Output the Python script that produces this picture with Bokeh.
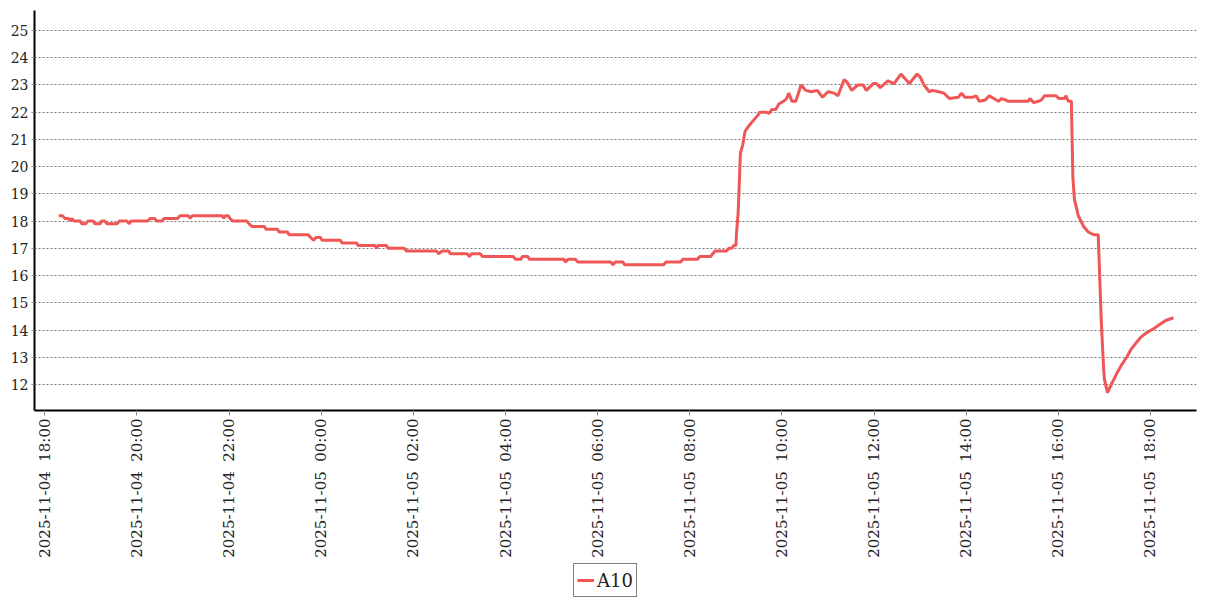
import datetime as dt
import numpy as np
from bokeh.plotting import figure
from bokeh.layouts import column
from bokeh.models import Range1d, FixedTicker, Legend, LegendItem, ColumnDataSource
from bokeh.embed import file_html
from bokeh.resources import INLINE

series_name = "A10"

times = ["18:18","18:23","18:26","18:31","18:33","18:35","18:38","18:46","18:48","18:53","18:56","19:03","19:05","19:12","19:14","19:18","19:21","19:34","19:37","19:47","19:50","19:52","20:14","20:17","20:23","20:26","20:33","20:35","20:53","20:56","21:07","21:09","21:12","21:51","21:53","21:55","21:59","22:01","22:05","22:23","22:26","22:30","22:46","22:48","23:03","23:05","23:16","23:18","23:43","23:46","23:50","23:53","23:59",
         "00:01","00:25","00:27","00:46","00:48","01:10","01:12","01:14","01:25","01:27","01:48","01:51","02:30","02:33","02:37","02:46","02:48","03:10","03:13","03:16","03:27","03:30","04:10","04:13","04:20","04:22","04:29","04:31","05:16","05:18","05:22","05:31","05:34","06:17","06:20","06:23","06:33","06:35","07:26","07:29","07:48","07:51","08:10","08:13","08:27","08:30","08:33","08:48","08:51","08:55","08:57",
         "09:00","09:01","09:03","09:05","09:06","09:09","09:12","09:17","09:23","09:29","09:31","09:40","09:43","09:47","09:52","09:56","10:02","10:06","10:09","10:13","10:18","10:25","10:31","10:38","10:46","10:53","11:00","11:08","11:13","11:21","11:25","11:31","11:39","11:46","11:50","11:59","12:03","12:08","12:18","12:26","12:35","12:46","12:56","13:00","13:05","13:12","13:16","13:24","13:31","13:38","13:50","13:54","13:58",
         "14:09","14:13","14:17","14:25","14:30","14:36","14:42","14:46","14:51","14:55","15:21","15:23","15:28","15:34","15:38","15:42","15:57","16:01","16:08","16:10","16:13","16:17","16:19","16:21","16:26","16:33","16:39","16:46","16:52","16:56","16:59","17:00","17:04","17:09","17:16","17:22","17:29","17:35","17:42","17:48","17:55","18:04","18:12","18:20","18:30"]

values = [18.2,18.2,18.1,18.1,18.0,18.1,18.0,18.0,17.9,17.9,18.0,18.0,17.9,17.9,18.0,18.0,17.9,17.9,18.0,18.0,17.9,18.0,18.0,18.1,18.1,18.0,18.0,18.1,18.1,18.2,18.2,18.1,18.2,18.2,18.1,18.2,18.2,18.1,18.0,18.0,17.9,17.8,17.8,17.7,17.7,17.6,17.6,17.5,17.5,17.4,17.3,17.4,17.4,
          17.3,17.3,17.2,17.2,17.1,17.1,17.0,17.1,17.1,17.0,17.0,16.9,16.9,16.8,16.9,16.9,16.8,16.8,16.7,16.8,16.8,16.7,16.7,16.6,16.6,16.7,16.7,16.6,16.6,16.5,16.6,16.6,16.5,16.5,16.4,16.5,16.5,16.4,16.4,16.5,16.5,16.6,16.6,16.7,16.7,16.8,16.9,16.9,17.0,17.0,17.1,
          17.1,17.6,18.3,19.8,20.5,20.8,21.3,21.5,21.7,21.9,22.0,22.0,21.95,22.1,22.1,22.3,22.4,22.5,22.7,22.4,22.4,23.0,22.8,22.75,22.8,22.55,22.75,22.7,22.6,23.2,23.1,22.8,23.0,23.0,22.8,23.05,23.05,22.9,23.15,23.05,23.4,23.05,23.4,23.3,23.0,22.75,22.8,22.75,22.7,22.5,22.55,22.7,22.55,
          22.55,22.6,22.4,22.45,22.6,22.5,22.4,22.5,22.45,22.4,22.4,22.5,22.35,22.4,22.45,22.6,22.6,22.5,22.5,22.6,22.4,22.4,19.6,18.8,18.2,17.8,17.6,17.5,17.5,14.3,12.6,12.2,11.7,12.0,12.4,12.7,13.0,13.3,13.55,13.75,13.9,14.05,14.2,14.35,14.45]

x_tick_labels = ["2025-11-04 18:00","2025-11-04 20:00","2025-11-04 22:00","2025-11-05 00:00",
                 "2025-11-05 02:00","2025-11-05 04:00","2025-11-05 06:00","2025-11-05 08:00",
                 "2025-11-05 10:00","2025-11-05 12:00","2025-11-05 14:00","2025-11-05 16:00",
                 "2025-11-05 18:00"]
y_ticks = list(range(12, 26))

LINE_COLOR = "#ef5656"

EPOCH = dt.datetime(1970, 1, 1)
def to_ms(d):
    return (d - EPOCH).total_seconds() * 1000.0

start_day = dt.datetime(2025, 11, 4)
dts = []
day = 0
prev = None
for t in times:
    h, m = map(int, t.split(":"))
    mins = h * 60 + m
    if prev is not None and mins < prev:
        day += 1
    prev = mins
    dts.append(start_day + dt.timedelta(days=day, minutes=mins))

src = ColumnDataSource(dict(t=dts, v=values))

x_start = dt.datetime(2025, 11, 4, 17, 46, 30)
x_end = dt.datetime(2025, 11, 5, 19, 0, 0)

p = figure(x_axis_type="datetime", frame_width=1162, frame_height=400,
           x_range=Range1d(x_start, x_end), y_range=Range1d(11.045, 25.734),
           output_backend="svg", toolbar_location=None,
           min_border_left=34, min_border_right=3, min_border_top=10, min_border_bottom=0)
p.outline_line_color = None
p.background_fill_color = "white"
p.border_fill_color = "white"

r = p.line("t", "v", source=src, line_color=LINE_COLOR, line_width=3)

tick_ms = [to_ms(dt.datetime.strptime(s, "%Y-%m-%d %H:%M")) for s in x_tick_labels]
p.xaxis.ticker = FixedTicker(ticks=tick_ms, minor_ticks=[])
p.xaxis.major_label_overrides = {ms: s.replace(" ", "\u00a0\u00a0") for ms, s in zip(tick_ms, x_tick_labels)}
p.xaxis.major_label_orientation = np.pi / 2
p.xaxis.major_label_text_font = "DejaVu Serif"
p.xaxis.major_label_text_font_size = "15px"
p.xaxis.major_label_text_color = "#222222"
p.xaxis.major_label_standoff = 3
p.xaxis.axis_line_width = 2
p.xaxis.axis_line_color = "black"
p.xaxis.major_tick_line_color = "#888888"
p.xaxis.major_tick_in = 0
p.xaxis.major_tick_out = 5
p.xaxis.minor_tick_line_color = None

p.yaxis.ticker = FixedTicker(ticks=y_ticks, minor_ticks=[])
p.yaxis.major_label_text_font = "DejaVu Serif"
p.yaxis.major_label_text_font_size = "14px"
p.yaxis.major_label_text_color = "#222222"
p.yaxis.major_label_standoff = 3
p.yaxis.axis_line_width = 2
p.yaxis.axis_line_color = "black"
p.yaxis.major_tick_line_color = "#888888"
p.yaxis.major_tick_in = 0
p.yaxis.major_tick_out = 3
p.yaxis.minor_tick_line_color = None

p.xgrid.visible = False
p.ygrid.grid_line_color = "#777777"
p.ygrid.grid_line_dash = "2 2"
p.ygrid.grid_line_width = 1

# legend strip: a small companion figure directly under the chart
p2 = figure(width=1199, height=38, x_range=Range1d(0, 1), y_range=Range1d(0, 1),
            output_backend="svg", toolbar_location=None,
            x_axis_location=None, y_axis_location=None,
            min_border=0, min_border_left=0, min_border_right=0,
            min_border_top=0, min_border_bottom=0)
p2.outline_line_color = None
p2.grid.visible = False
p2.background_fill_alpha = 0
p2.border_fill_alpha = 0
key_src = ColumnDataSource(dict(x=[-1.0], y=[-1.0]))  # off-canvas key sample
r2 = p2.line("x", "y", source=key_src, line_color=LINE_COLOR, line_width=3)

legend = Legend(items=[LegendItem(label=series_name, renderers=[r2])],
                orientation="horizontal", location=(539, 1))
legend.margin = 0
legend.padding = 3
legend.glyph_width = 17
legend.glyph_height = 26
legend.label_height = 26
legend.label_standoff = 3
legend.label_text_font = "DejaVu Serif"
legend.label_text_font_size = "18px"
legend.label_text_color = "#222222"
legend.border_line_color = "black"
legend.border_line_width = 1
legend.background_fill_color = "white"
legend.background_fill_alpha = 1.0
p2.add_layout(legend, "center")

layout = column(p, p2, spacing=0)
open("out.html", "w").write(file_html(layout, INLINE))
